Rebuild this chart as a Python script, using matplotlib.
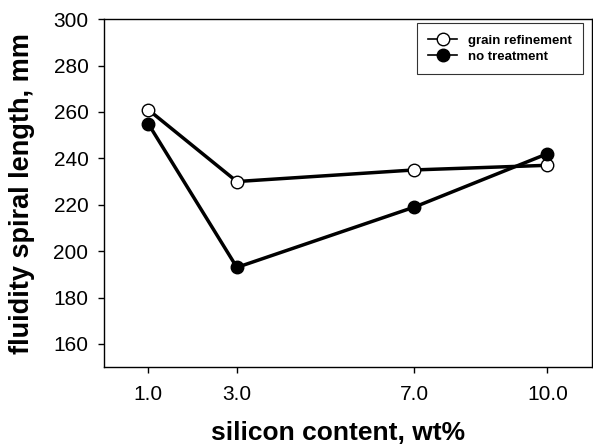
import matplotlib.pyplot as plt

plt.rcParams['font.family'] = ['Liberation Sans', 'DejaVu Sans']

# silicon content (wt%) and fluidity spiral length (mm)
si = [1.0, 3.0, 7.0, 10.0]
grain_ref = [261, 230, 235, 237]
no_treat = [255, 193, 219, 242]
xticks = ['1.0', '3.0', '7.0', '10.0']
yticks = [160, 180, 200, 220, 240, 260, 280, 300]

fig = plt.figure(figsize=(5.93, 4.44), dpi=100)
ax = fig.add_axes([0.175, 0.173, 0.823, 0.784])

ax.plot(si, grain_ref, color='black', lw=2.5, marker='o', ms=9,
        mfc='white', mec='black', mew=1.0, label='grain refinement', zorder=3)
ax.plot(si, no_treat, color='black', lw=2.5, marker='o', ms=9,
        mfc='black', mec='black', label='no treatment', zorder=3)

ax.set_xlim(0, 11)
ax.set_ylim(150, 300)
ax.set_xticks(si)
ax.set_xticklabels(xticks)
ax.set_yticks(yticks)
ax.tick_params(direction='out', length=4, width=1, labelsize=15)
ax.tick_params(axis='x', pad=9)
ax.tick_params(axis='y', pad=7)

for s in ax.spines.values():
    s.set_linewidth(1.0)

ax.set_xlabel('silicon content, wt%', fontsize=19, fontweight='bold', labelpad=12)
ax.xaxis.set_label_coords(0.48, -0.155)
ax.set_ylabel('fluidity spiral length, mm', fontsize=19.5, fontweight='bold', labelpad=13)

leg = ax.legend(loc='upper right', bbox_to_anchor=(0.99, 1.0),
                prop={'weight': 'bold', 'size': 9.5},
                frameon=True, fancybox=False, edgecolor='black',
                handlelength=2.2, borderaxespad=0.3, borderpad=0.85,
                labelspacing=0.3)
leg.get_frame().set_linewidth(0.8)
for h in leg.get_lines():
    h.set_linewidth(1.2)
    h.set_markersize(9)

fig.savefig('out.png', dpi=100)
